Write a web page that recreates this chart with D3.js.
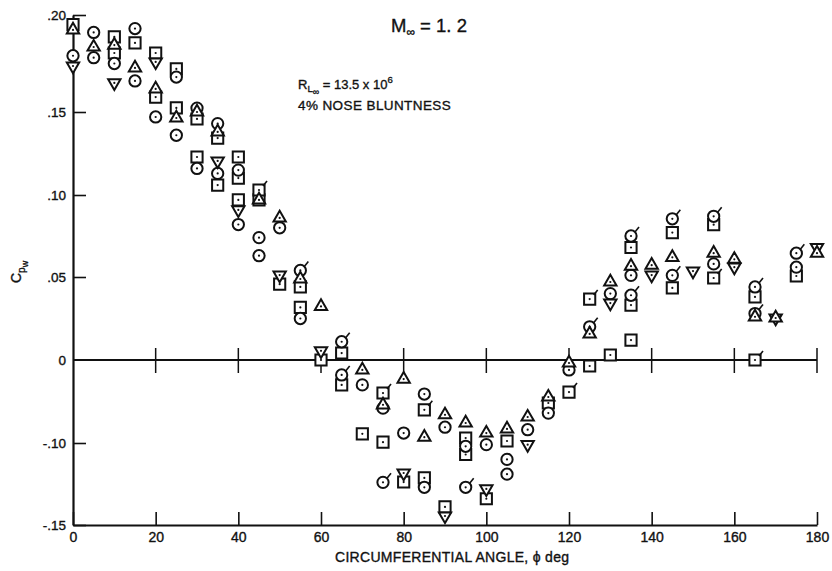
<!DOCTYPE html>
<html>
<head>
<meta charset="utf-8">
<script src="https://cdn.jsdelivr.net/npm/d3@7"></script>
<style>
  body { margin: 0; background: #fff; }
  text { font-family: "Liberation Sans", Arial, Helvetica, sans-serif; fill: #111; stroke: #111; stroke-width: 0.35px; }
</style>
</head>
<body>
<svg id="chart" width="832" height="571"></svg>
<script>
// Wall pressure coefficient vs circumferential angle, M = 1.2
const xTickValues = [0, 20, 40, 60, 80, 100, 120, 140, 160, 180];
const yTickValues = [0.20, 0.15, 0.10, 0.05, 0, -0.10, -0.15];
const yTickLabels = [".20", ".15", ".10", ".05", "0", "-.10", "-.15"];

// [phi (deg), Cp_w]
const circleOpen = [
  [0, 0.179], [5, 0.191], [5, 0.178], [10, 0.175], [15, 0.193], [15, 0.166],
  [20, 0.147], [25, 0.168], [25, 0.136], [30, 0.152], [30, 0.116], [35, 0.143],
  [35, 0.113], [40, 0.115], [40, 0.082], [45, 0.074], [45, 0.063], [50, 0.080],
  [55, 0.025], [70, -0.030], [75, -0.058], [80, -0.088], [85, -0.041], [85, -0.127],
  [90, -0.081], [95, -0.102], [100, -0.101], [105, -0.110], [105, -0.119],
  [110, -0.084], [115, -0.064], [120, -0.012], [130, 0.040], [135, 0.051],
  [155, 0.058], [175, 0.056]
];
const circleFlag = [
  [55, 0.054], [65, 0.011], [65, -0.018], [75, -0.124], [95, -0.127],
  [125, 0.020], [135, 0.075], [135, 0.039], [145, 0.0855], [145, 0.051],
  [155, 0.087], [165, 0.044], [165, 0.028], [175, 0.0645]
];
const squareOpen = [
  [0, 0.195], [10, 0.1887], [10, 0.1804], [15, 0.1856], [20, 0.1804], [20, 0.1577],
  [25, 0.1722], [25, 0.1521], [30, 0.1458], [30, 0.1229], [35, 0.1343], [35, 0.106],
  [40, 0.1229], [40, 0.1102], [40, 0.097], [45, 0.097], [50, 0.0457], [55, 0.044],
  [55, 0.0317], [60, 0.0], [65, 0.0042], [65, -0.030], [70, -0.089], [75, -0.099],
  [80, -0.1238], [85, -0.1213], [90, -0.139], [95, -0.094], [95, -0.107],
  [100, -0.134], [105, -0.0976], [115, -0.0518], [125, -0.0072], [130, 0.003],
  [135, 0.068], [135, 0.0331], [135, 0.012], [145, 0.0771], [145, 0.0434],
  [155, 0.0819], [165, 0.038], [175, 0.0506]
];
const squareFlag = [
  [45, 0.103], [75, -0.0398], [85, -0.060], [120, -0.0386], [125, 0.0367],
  [155, 0.0494], [165, 0.0]
];
const triUp = [
  [0, 0.1923], [5, 0.1835], [10, 0.1845], [15, 0.1727], [20, 0.1619], [25, 0.1464],
  [30, 0.150], [35, 0.138], [45, 0.097], [50, 0.086], [55, 0.0488], [60, 0.0323],
  [70, -0.012], [75, -0.054], [80, -0.023], [85, -0.093], [90, -0.066],
  [95, -0.0759], [100, -0.088], [105, -0.0831], [110, -0.0687], [115, -0.0446],
  [120, -0.0036], [125, 0.0157], [130, 0.047], [135, 0.0566], [140, 0.0572],
  [145, 0.062], [155, 0.0645], [160, 0.0608], [165, 0.026], [170, 0.0253],
  [180, 0.0645]
];
const triDown = [
  [0, 0.1737], [10, 0.165], [20, 0.1758], [35, 0.1205], [40, 0.0909], [50, 0.0512],
  [60, 0.0055], [80, -0.1183], [90, -0.1445], [100, -0.128], [110, -0.101],
  [130, 0.0343], [140, 0.0512], [150, 0.0536], [160, 0.056], [170, 0.0253],
  [180, 0.068]
];

const svg = d3.select("#chart");
const x = d3.scaleLinear().domain([0, 180]).range([73, 817]);
// Vertical axis is graduated piecewise, following its printed tick marks
const y = d3.scaleLinear()
  .domain([-0.15, -0.10, 0, 0.05, 0.10, 0.15, 0.20])
  .range([525, 443, 360, 277, 195, 112, 15]);

const ink = "#111";
const fontStack = "Liberation Sans, Arial, sans-serif";

// Axes
const xAxis = d3.axisBottom(x).tickValues(xTickValues).tickFormat(d3.format("d"))
  .tickSizeInner(-13).tickSizeOuter(0).tickPadding(7);
const gx = svg.append("g").attr("transform", `translate(0,${y(-0.15)})`).call(xAxis);
gx.select(".domain").attr("stroke", ink).attr("stroke-width", 2.2);
gx.selectAll(".tick line").attr("stroke", ink).attr("stroke-width", 1.6);
gx.selectAll(".tick text").attr("font-size", 14).attr("fill", ink).attr("font-family", fontStack);

const yAxis = d3.axisLeft(y).tickValues(yTickValues)
  .tickFormat((d, i) => yTickLabels[i])
  .tickSizeInner(-13).tickSizeOuter(0).tickPadding(7);
const gy = svg.append("g").attr("transform", `translate(${x(0)},0)`).call(yAxis);
gy.select(".domain").attr("stroke", ink).attr("stroke-width", 2.2);
gy.selectAll(".tick line").attr("stroke", ink).attr("stroke-width", 1.6);
gy.selectAll(".tick").filter(d => d === 0).select("line").remove();
gy.selectAll(".tick text").attr("font-size", 13.5).attr("fill", ink).attr("font-family", fontStack);

// Zero reference line with crossing ticks
svg.append("line")
  .attr("x1", x(0)).attr("x2", x(180)).attr("y1", y(0)).attr("y2", y(0))
  .attr("stroke", ink).attr("stroke-width", 1.8);
svg.append("g").selectAll("line").data(xTickValues.filter(d => d > 0)).join("line")
  .attr("x1", d => x(d)).attr("x2", d => x(d))
  .attr("y1", y(0) - 12).attr("y2", y(0) + 13)
  .attr("stroke", ink).attr("stroke-width", 1.5);

// Markers
const shapes = {
  circle: d3.symbol().type(d3.symbolCircle).size(100)(),
  square: d3.symbol().type(d3.symbolSquare).size(125)(),
  tri: d3.symbol().type(d3.symbolTriangle).size(66)()
};

function drawSeries(data, shape, rotate, flag) {
  const g = svg.append("g").selectAll("g").data(data).join("g")
    .attr("transform", d => `translate(${x(d[0])},${y(d[1])})`);
  g.append("path").attr("d", shapes[shape])
    .attr("transform", rotate ? "rotate(180)" : null)
    .attr("fill", "#fff").attr("stroke", ink).attr("stroke-width", 2);
  g.append("circle").attr("r", 1.1).attr("fill", ink);
  if (flag) {
    g.append("line").attr("x1", 4).attr("y1", -4).attr("x2", 8).attr("y2", -9)
      .attr("stroke", ink).attr("stroke-width", 1.6);
  }
}

drawSeries(squareOpen, "square", false, false);
drawSeries(squareFlag, "square", false, true);
drawSeries(circleOpen, "circle", false, false);
drawSeries(circleFlag, "circle", false, true);
drawSeries(triDown, "tri", true, false);
drawSeries(triUp, "tri", false, false);

// Titles and annotations
const title = svg.append("text").attr("x", 391).attr("y", 32).attr("font-size", 18.5);
title.append("tspan").text("M");
title.append("tspan").attr("font-size", 12).attr("dy", 4).text("∞");
title.append("tspan").attr("dy", -4).text(" = 1. 2");

const re = svg.append("text").attr("x", 298).attr("y", 89).attr("font-size", 13);
re.append("tspan").text("R");
re.append("tspan").attr("font-size", 9.5).attr("dy", 3).text("L");
re.append("tspan").attr("font-size", 9).attr("dy", 2.5).text("∞");
re.append("tspan").attr("dy", -5.5).text(" = 13.5 x 10");
re.append("tspan").attr("font-size", 9.5).attr("dy", -6).text("6");

svg.append("text").attr("x", 298).attr("y", 110).attr("font-size", 13.5)
  .attr("letter-spacing", 0.4).text("4% NOSE BLUNTNESS");

svg.append("text").attr("x", 335).attr("y", 562).attr("font-size", 14)
  .attr("letter-spacing", 0.3).text("CIRCUMFERENTIAL ANGLE, ϕ deg");

const yl = svg.append("text").attr("transform", "translate(21,283) rotate(-90)").attr("font-size", 14);
yl.append("tspan").text("C");
yl.append("tspan").attr("font-size", 10).attr("dy", 4).text("p");
yl.append("tspan").attr("font-size", 9).attr("dy", 3).text("w");
</script>
</body>
</html>
